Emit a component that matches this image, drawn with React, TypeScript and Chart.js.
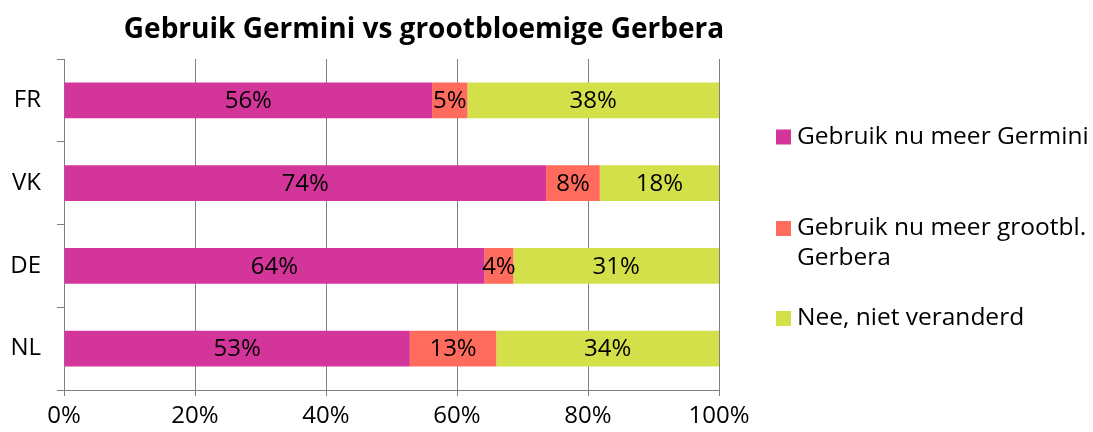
import React, { useEffect, useRef } from "react";
import { Chart, registerables } from "chart.js";

Chart.register(...registerables);

// ---- data ----
const chartTitle = "Gebruik Germini vs grootbloemige Gerbera";
const categories = ["FR", "VK", "DE", "NL"];
const seriesNames = [
  "Gebruik nu meer Germini",
  "Gebruik nu meer grootbl. Gerbera",
  "Nee, niet veranderd",
];
const legendLines = [
  ["Gebruik nu meer Germini"],
  ["Gebruik nu meer grootbl.", "Gerbera"],
  ["Nee, niet veranderd"],
];
const meerGermini = [56.2, 73.6, 64.2, 52.8];
const meerGrootbl = [5.4, 8.2, 4.4, 13.2];
const nietVeranderd = [38.4, 18.2, 31.4, 34.0];
const xTickValues = [0, 20, 40, 60, 80, 100];

// ---- styles ----
const FONT = "'Open Sans', sans-serif";
const COLORS = ["#D4359A", "#FF6B5D", "#D4E04A"];
const GRID = "#808080";
const W = 1093;
const H = 432;
const PLOT_LEFT = 64;
const PLOT_RIGHT = 719;
const PLOT_TOP = 59;
const X_AXIS_HEIGHT = 42;
const TITLE_OFFSET_X = 360; // from plot left
const TITLE_Y = 30;
const LEGEND_MARKER_DX = 57; // from plot right
const LEGEND_TEXT_DX = 78;
const LEGEND_LINE_Y = [[137], [228.5, 258.5], [318.5]];
const LEGEND_MARKER = 15;

const overlayPlugin = {
  id: "overlay",
  afterDatasetsDraw(chart: any) {
    const ctx = chart.ctx;
    ctx.save();
    ctx.font = `24px ${FONT}`;
    ctx.fillStyle = "#000";
    ctx.textAlign = "center";
    ctx.textBaseline = "middle";
    chart.data.datasets.forEach((ds: any, di: number) => {
      const meta = chart.getDatasetMeta(di);
      meta.data.forEach((el: any, i: number) => {
        const v = ds.data[i] as number;
        const p = el.getProps(["x", "y", "base"], true);
        ctx.fillText(Math.round(v) + "%", (p.x + p.base) / 2, p.y + 1);
      });
    });
    ctx.restore();
  },
  afterDraw(chart: any) {
    const ctx = chart.ctx;
    const area = chart.chartArea;
    ctx.save();
    // title
    ctx.font = `bold 28px ${FONT}`;
    ctx.fillStyle = "#000";
    ctx.textAlign = "center";
    ctx.textBaseline = "middle";
    ctx.fillText(chartTitle, area.left + TITLE_OFFSET_X, TITLE_Y);
    // legend
    ctx.font = `24.5px ${FONT}`;
    ctx.textAlign = "left";
    chart.data.datasets.forEach((ds: any, di: number) => {
      const lines = legendLines[di];
      const ys = LEGEND_LINE_Y[di];
      const mx = area.right + LEGEND_MARKER_DX;
      ctx.fillStyle = ds.backgroundColor;
      ctx.fillRect(mx, ys[0] - LEGEND_MARKER / 2, LEGEND_MARKER, LEGEND_MARKER);
      ctx.fillStyle = "#000";
      lines.forEach((ln, li) => {
        ctx.fillText(ln, area.right + LEGEND_TEXT_DX, ys[li]);
      });
    });
    ctx.restore();
  },
};

export default function App() {
  const ref = useRef<HTMLCanvasElement | null>(null);
  useEffect(() => {
    document.body.style.margin = "0";
    const canvas = ref.current!;
    const seriesValues = [meerGermini, meerGrootbl, nietVeranderd];
    const chart = new Chart(canvas, {
      type: "bar",
      data: {
        labels: categories,
        datasets: seriesValues.map((vals, i) => ({
          label: seriesNames[i],
          data: vals,
          backgroundColor: COLORS[i],
          borderWidth: 0,
          categoryPercentage: 1,
          barPercentage: 0.43,
        })),
      },
      options: {
        indexAxis: "y",
        responsive: false,
        animation: false,
        maintainAspectRatio: false,
        layout: {
          padding: { left: 0, top: PLOT_TOP, right: W - PLOT_RIGHT, bottom: 0 },
        },
        plugins: {
          legend: { display: false },
          title: { display: false },
          tooltip: { enabled: false },
        },
        scales: {
          x: {
            stacked: true,
            min: 0,
            max: 100,
            afterBuildTicks(scale: any) {
              scale.ticks = xTickValues.map((v) => ({ value: v }));
            },
            afterFit(scale: any) {
              scale.height = X_AXIS_HEIGHT;
            },
            ticks: {
              callback: (v: any) => v + "%",
              color: "#000",
              font: { family: FONT, size: 24 },
              padding: 6,
              maxRotation: 0,
            },
            grid: { color: GRID, lineWidth: 1, tickLength: 6, drawOnChartArea: true },
            border: { color: GRID, width: 1 },
          },
          y: {
            stacked: true,
            afterFit(scale: any) {
              scale.width = PLOT_LEFT;
            },
            ticks: {
              color: "#000",
              font: { family: FONT, size: 24 },
              padding: 16,
            },
            grid: { color: GRID, lineWidth: 1, tickLength: 7, drawOnChartArea: false, offset: true },
            border: { color: GRID, width: 1 },
          },
        },
      },
      plugins: [overlayPlugin],
    });
    return () => chart.destroy();
  }, []);
  return (
    <div style={{ position: "absolute", left: 0, top: 0, width: W, height: H, background: "#fff" }}>
      <canvas ref={ref} width={W} height={H} style={{ display: "block", width: W, height: H }} />
    </div>
  );
}
